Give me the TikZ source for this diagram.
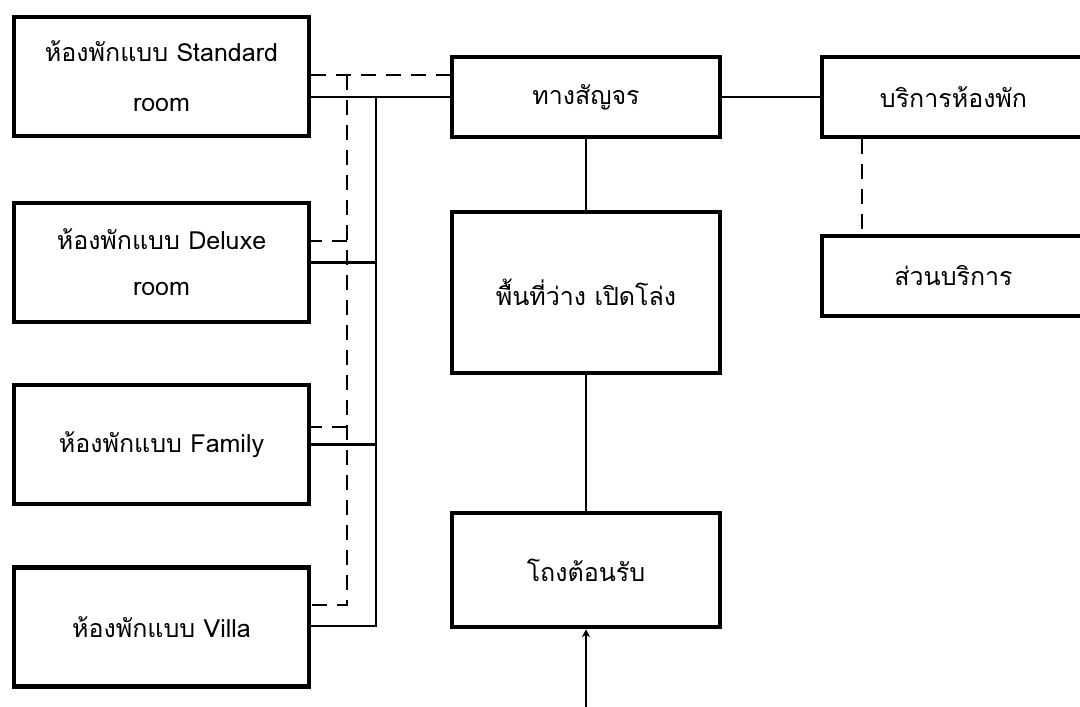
\documentclass[tikz,border=0pt]{standalone}
\usepackage{fontspec}
\newfontfamily\thai[Script=Thai]{Loma}
\usetikzlibrary{arrows.meta}
\begin{document}
\begin{tikzpicture}[x=1pt,y=-1pt,
  box/.style={draw, line width=4.5pt, inner sep=0pt, align=center,
    font=\thai\fontsize{25}{30}\selectfont},
  room/.style={box, minimum width=295pt, minimum height=119pt},
  zone/.style={box, minimum width=268pt},
  link/.style={line width=2.8pt},
  dlink/.style={line width=2.8pt, dash pattern=on 15pt off 10pt}]
\useasboundingbox (0,0) rectangle (1080,707);
\fill[white] (0,0) rectangle (1080,707);

% guest room types
\node[room] (std) at (161.5,76.5) {ห้องพักแบบ Standard\\[20pt]room};
\node[room] (dlx) at (161.5,262.5) {ห้องพักแบบ Deluxe\\[16pt]room};
\node[room] (fam) at (161.5,444.5) {ห้องพักแบบ Family};
\node[room] (vil) at (161.5,627) {ห้องพักแบบ Villa};

% central spine
\node[zone, minimum height=80pt] (path) at (586,97) {ทางสัญจร};
\node[zone, minimum height=161pt] (open) at (586,292.5) {พื้นที่ว่าง เปิดโล่ง};
\node[zone, minimum height=114pt] (lobby) at (586,570) {โถงต้อนรับ};

% service side
\node[box, minimum width=263pt, minimum height=80pt] (rsv) at (953.5,97) {บริการห้องพัก};
\node[box, minimum width=263pt, minimum height=80pt] (svc) at (953.5,276) {ส่วนบริการ};

% solid bus
\coordinate (sTop) at (376,97);
\coordinate (sBot) at (376,626);
\draw[link] (path.west) -- (path.west -| std.east);
\draw[link] (sTop) -- (sBot) -- (sBot -| vil.east);
\draw[link] (dlx.east) -- (dlx.east -| sTop);
\draw[link] (fam.east) -- (fam.east -| sTop);

% dashed bus
\coordinate (dTop) at (347,75);
\coordinate (dBot) at (347,605);
\coordinate (dPath) at (path.west |- dTop);
\draw[dlink] (dTop -| std.east) -- (dPath);
\draw[dlink] (dTop) -- (dBot) -- (dBot -| vil.east);
\draw[dlink] (347,241) -- (dlx.east |- 0,241);
\draw[dlink] (347,427) -- (fam.east |- 0,427);

% spine and service links
\draw[link] (path) -- (open);
\draw[link] (open) -- (lobby);
\draw[link] (path.east) -- (rsv.west);
\draw[dlink] (rsv.south -| 862,0) -- (svc.north -| 862,0);

% entrance
\coordinate (entry) at (586,707);
\draw[link, -{Stealth[length=8pt,width=8pt]}] (entry) -- (lobby.south);
\end{tikzpicture}
\end{document}
